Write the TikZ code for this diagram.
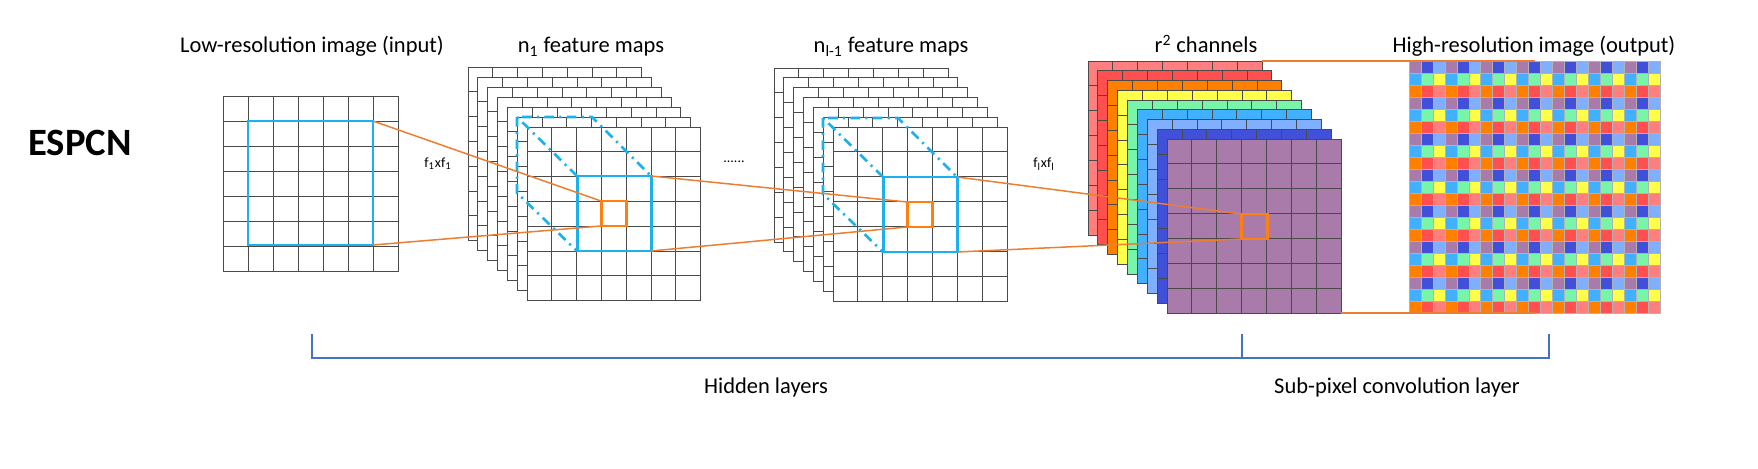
\documentclass[tikz,border=0pt]{standalone}
\usepackage{fontspec}
\setmainfont{Carlito}
\usepackage{xcolor}
\usepackage{tikz}

% colours of the r^2 channels (back to front)
\definecolor{ch1}{HTML}{FF7F7F}
\definecolor{ch2}{HTML}{FF4F4F}
\definecolor{ch3}{HTML}{FF8000}
\definecolor{ch4}{HTML}{FFFF4A}
\definecolor{ch5}{HTML}{78F5A8}
\definecolor{ch6}{HTML}{40B0FF}
\definecolor{ch7}{HTML}{80AFFF}
\definecolor{ch8}{HTML}{4050D8}
\definecolor{ch9}{HTML}{A97BAA}
\definecolor{kernel}{HTML}{1CB0EC}
\definecolor{pix}{HTML}{FF7F10}
\definecolor{link}{HTML}{ED7D31}
\definecolor{brace}{HTML}{4472C4}
\definecolor{gridcol}{HTML}{4A4A4A}

% one 7x7 map: x, y (top left), fill, size
\newcommand{\fmap}[4]{%
  \filldraw[fill=#3, draw=gridcol, line width=0.45pt] (#1,#2) rectangle ++(#4,#4);
  \foreach \g in {1,...,6} {
    \draw[gridcol, line width=0.45pt] ({#1+\g*#4/7},#2) -- ++(0,#4);
    \draw[gridcol, line width=0.45pt] (#1,{#2+\g*#4/7}) -- ++(#4,0);
  }%
}

\begin{document}
\begin{tikzpicture}[x=0.02cm, y=-0.02cm,
    title/.style={font=\fontsize{12.8}{14}\selectfont, anchor=base},
    small/.style={font=\fontsize{8}{9}\selectfont},
    kern/.style={draw=kernel, line width=1.7pt},
    kerndd/.style={draw=kernel, line width=1.5pt, dash pattern=on 5.5pt off 3pt on 1.2pt off 3pt},
    pixbox/.style={draw=pix, line width=1.7pt},
    conn/.style={draw=link, line width=0.85pt}]
    \useasboundingbox (0,0) rectangle (1758,469);

    % Label of the method
    \node[font=\fontsize{22}{26}\selectfont\bfseries] (espcn) at (80,143) {ESPCN};

    % Low-resolution input
    \fmap{223}{96}{white}{175}
    \draw[kern] (248,121) rectangle (373,245);
    \coordinate (in-tr) at (373,121);
    \coordinate (in-br) at (373,245);
    \node[title] (t-in) at (312,53) {Low-resolution image (input)};

    % n_1 feature maps
    \foreach \k in {6,...,0} {\fmap{527-\k*9.83}{127-\k*10}{white}{173.5}}
    \draw[kern] (577,176) rectangle (651,251);
    \draw[kerndd] (577,176) -- (517,117) -- (592,117) -- (651,176);
    \draw[kerndd] (517,117) -- (517,193) -- (577,251);
    \draw[pixbox] (601,201) rectangle (626,226);
    \coordinate (a-tl) at (601,201);
    \coordinate (a-bl) at (601,226);
    \coordinate (a-tr) at (651,176);
    \coordinate (a-br) at (651,251);
    \node[title] (t-n1) at (591,53) {n\textsubscript{1} feature maps};
    \node[small] (f1) at (438,164) {f\textsubscript{1}xf\textsubscript{1}};
    \node[small] (dots) at (734,162) {......};

    % n_{l-1} feature maps
    \foreach \k in {6,...,0} {\fmap{833-\k*9.83}{127-\k*9.83}{white}{174}}
    \draw[kern] (883,177) rectangle (957,252);
    \draw[kerndd] (883,177) -- (823,118) -- (898,118) -- (957,177);
    \draw[kerndd] (823,118) -- (823,194) -- (883,252);
    \draw[pixbox] (907,202) rectangle (932,227);
    \coordinate (b-tl) at (907,202);
    \coordinate (b-bl) at (907,227);
    \coordinate (b-tr) at (957,177);
    \coordinate (b-br) at (957,252);
    \node[title] (t-nl) at (891,53) {n\textsubscript{l-1} feature maps};
    \node[small] (fl) at (1044,164) {f\textsubscript{l}xf\textsubscript{l}};

    % r^2 channels
    \foreach \k [evaluate=\k as \c using int(9-\k)] in {8,...,0} {\fmap{1167-\k*9.875}{139-\k*9.75}{ch\c}{174}}
    \draw[pixbox] (1241,214) rectangle (1267,239);
    \coordinate (c-tl) at (1241,214);
    \coordinate (c-bl) at (1241,239);
    \coordinate (c-top) at (1262,61);
    \coordinate (c-bot) at (1341,313);
    \node[title] (t-r2) at (1206,53) {r\textsuperscript{2} channels};

    % High-resolution output (pixel shuffle of the 9 channels)
    \foreach \r in {0,...,20} {
      \foreach \c in {0,...,20} {
        \pgfmathtruncatemacro{\ch}{9-3*mod(\r,3)-mod(\c,3)}
        \filldraw[fill=ch\ch, draw=black!30, line width=0.3pt] ({1409+\c*11.95},{61+\r*12}) rectangle ++(11.95,12);
      }
    }
    \coordinate (out-top) at (1535,61);
    \coordinate (out-bot) at (1535,313);
    \node[title] (t-out) at (1534,53) {High-resolution image (output)};

    % Connectors
    \draw[conn] (in-tr) -- (a-tl);
    \draw[conn] (in-br) -- (a-bl);
    \draw[conn] (a-tr) -- (b-tl);
    \draw[conn] (a-br) -- (b-bl);
    \draw[conn] (b-tr) -- (c-tl);
    \draw[conn] (b-br) -- (c-bl);
    \draw[conn] (c-top) -- (out-top);
    \draw[conn] (c-bot) -- (out-bot);

    % Brackets below
    \coordinate (h-l) at (312,358);
    \coordinate (h-m) at (1242,358);
    \coordinate (h-r) at (1549,358);
    \draw[brace, line width=1.1pt] (312,334) -- (h-l) -- (h-r) -- (1549,334);
    \draw[brace, line width=1.1pt] (1242,334) -- (h-m);
    \node[title] (hidden) at (766,394) {Hidden layers};
    \node[title] (subpix) at (1397,394) {Sub-pixel convolution layer};
\end{tikzpicture}
\end{document}
